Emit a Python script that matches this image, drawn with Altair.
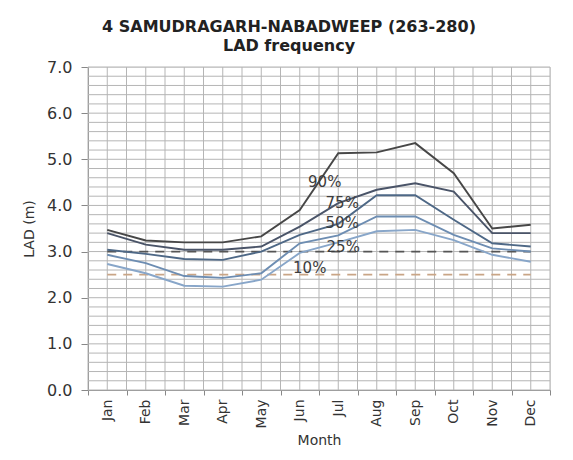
import altair as alt
import pandas as pd

months = ["Jan", "Feb", "Mar", "Apr", "May", "Jun", "Jul", "Aug", "Sep", "Oct", "Nov", "Dec"]
series_names = ["90%", "75%", "50%", "25%", "10%"]
p90 = [3.47, 3.24, 3.20, 3.20, 3.33, 3.90, 5.13, 5.15, 5.35, 4.70, 3.50, 3.58]
p75 = [3.40, 3.15, 3.04, 3.04, 3.11, 3.54, 4.05, 4.34, 4.48, 4.30, 3.40, 3.40]
p50 = [3.04, 2.95, 2.84, 2.82, 3.00, 3.36, 3.60, 4.22, 4.22, 3.69, 3.18, 3.11]
p25 = [2.93, 2.75, 2.47, 2.43, 2.53, 3.18, 3.35, 3.76, 3.76, 3.36, 3.07, 3.00]
p10 = [2.73, 2.53, 2.26, 2.24, 2.39, 2.97, 3.20, 3.44, 3.47, 3.25, 2.93, 2.78]
thresholds = [3.0, 2.5]
label_texts = ["90%", "75%", "50%", "25%", "10%"]
label_months = ["Jun", "Jul", "Jul", "Jul", "Jun"]
label_values = [4.51, 4.05, 3.62, 3.10, 2.65]
y_ticks = [0, 1, 2, 3, 4, 5, 6, 7]

FONT = "DejaVu Sans"
series_colors = ["#474747", "#4a5468", "#4e6886", "#6d8db2", "#88a6c9"]
threshold_colors = ["#555555", "#c9a586"]
label_dx = [25, 4, 4, 5, 10]

rows = []
for name, vals in zip(series_names, [p90, p75, p50, p25, p10]):
    for m, v in zip(months, vals):
        rows.append({"month": m, "series": name, "lad": v})
df = pd.DataFrame(rows)

x_enc = alt.X("month:N", sort=months, scale=alt.Scale(domain=months, paddingInner=0, paddingOuter=0),
              axis=alt.Axis(title="Month", labelAngle=270, tickBand="extent", grid=False,
                            labelFont=FONT, labelFontSize=14, labelColor="#333333",
                            titleFont=FONT, titleFontSize=14, titleFontWeight="normal", titleColor="#333333",
                            domainColor="#888888", tickColor="#888888", tickSize=5, labelPadding=4,
                            titlePadding=6))
y_scale = alt.Scale(domain=[0, 7], nice=False)

# grid
grid_color = "#b5b5b5"
vgrid_df = pd.DataFrame({"month": months})
vgrid0 = alt.Chart(vgrid_df).mark_rule(color=grid_color, strokeWidth=1).encode(
    x=alt.X("month:N", sort=months, bandPosition=0))
vgrid5 = alt.Chart(vgrid_df).mark_rule(color=grid_color, strokeWidth=1).encode(
    x=alt.X("month:N", sort=months, bandPosition=0.5))
vgrid1 = alt.Chart(pd.DataFrame({"month": [months[-1]]})).mark_rule(color=grid_color, strokeWidth=1).encode(
    x=alt.X("month:N", sort=months, bandPosition=1))
hgrid_df = pd.DataFrame({"v": [round(i * 0.2, 1) for i in range(0, 36)]})
hgrid = alt.Chart(hgrid_df).mark_rule(color=grid_color, strokeWidth=1).encode(
    y=alt.Y("v:Q", scale=y_scale))

lines = alt.Chart(df).mark_line(strokeWidth=1.9).encode(
    x=x_enc,
    y=alt.Y("lad:Q", scale=y_scale,
            axis=alt.Axis(title="LAD (m)", values=y_ticks, format=".1f", grid=False,
                          labelFont=FONT, labelFontSize=16, labelColor="#333333",
                          titleFont=FONT, titleFontSize=14, titleFontWeight="normal", titleColor="#333333",
                          domainColor="#888888", tickColor="#888888", tickSize=7, labelPadding=9,
                          titlePadding=10)),
    color=alt.Color("series:N", scale=alt.Scale(domain=series_names, range=series_colors), legend=None),
    detail="series:N",
)

thr_layers = []
for t, c in zip(thresholds, threshold_colors):
    tdf = pd.DataFrame({"month": months, "v": [t] * len(months)})
    thr_layers.append(alt.Chart(tdf).mark_line(color=c, strokeWidth=1.8, strokeDash=[9, 7]).encode(
        x=alt.X("month:N", sort=months), y=alt.Y("v:Q", scale=y_scale)))

text_layers = []
for txt, m, v, dx in zip(label_texts, label_months, label_values, label_dx):
    ldf = pd.DataFrame({"month": [m], "v": [v], "t": [txt]})
    text_layers.append(alt.Chart(ldf).mark_text(font=FONT, fontSize=15, color="#3c3c3c", dx=dx,
                                                align="center", baseline="middle").encode(
        x=alt.X("month:N", sort=months), y=alt.Y("v:Q", scale=y_scale), text="t:N"))

chart = alt.layer(vgrid0, vgrid5, vgrid1, hgrid, *thr_layers, lines, *text_layers).properties(
    width=462, height=323,
    title=alt.TitleParams(text=["4 SAMUDRAGARH-NABADWEEP (263-280)", "LAD frequency"],
                          font=FONT, fontSize=16, fontWeight="bold", color="#222222",
                          dx=-30, offset=5, lineHeight=19),
    autosize=alt.AutoSizeParams(type="none"),
    padding={"left": 80, "top": 59, "right": 15, "bottom": 62},
).configure_view(stroke=None).configure(background="white")

chart.save("out.html", embed_options={"renderer": "svg", "actions": False})
